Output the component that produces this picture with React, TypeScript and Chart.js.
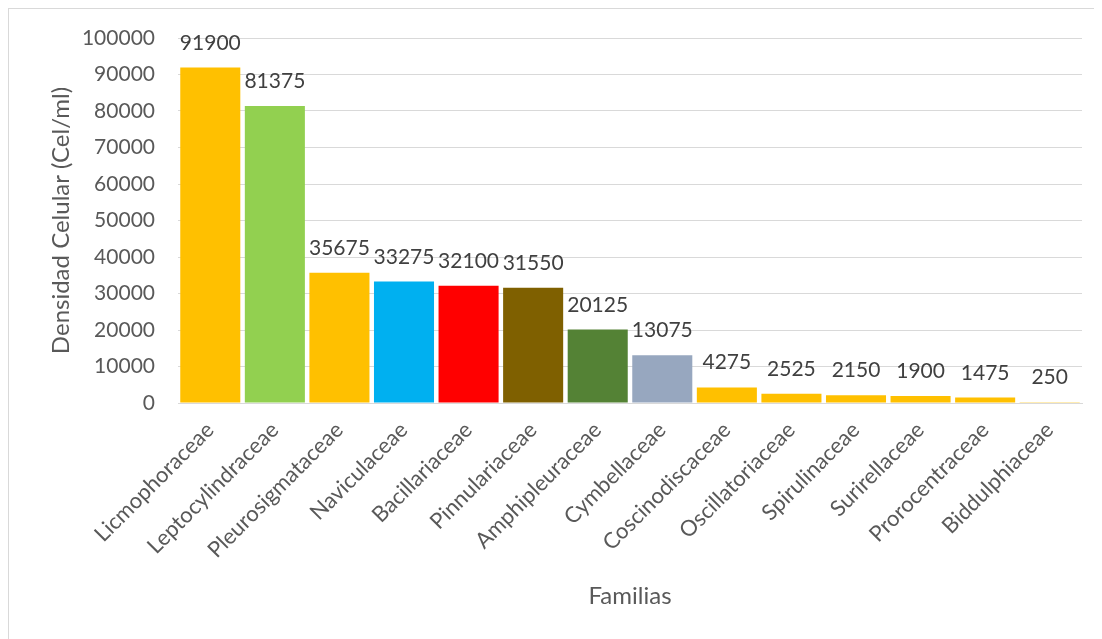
import React, { useEffect, useRef } from "react";
import { Chart, registerables } from "chart.js";

Chart.register(...registerables);

const categories: string[] = [
  "Licmophoraceae",
  "Leptocylindraceae",
  "Pleurosigmataceae",
  "Naviculaceae",
  "Bacillariaceae",
  "Pinnulariaceae",
  "Amphipleuraceae",
  "Cymbellaceae",
  "Coscinodiscaceae",
  "Oscillatoriaceae",
  "Spirulinaceae",
  "Surirellaceae",
  "Prorocentraceae",
  "Biddulphiaceae",
];

const densities: number[] = [91900, 81375, 35675, 33275, 32100, 31550, 20125, 13075, 4275, 2525, 2150, 1900, 1475, 250];

const barColors: string[] = [
  "#FFC000",
  "#92D050",
  "#FFC000",
  "#00B0F0",
  "#FF0000",
  "#7F6000",
  "#548235",
  "#97A7BF",
  "#FFC000",
  "#FFC000",
  "#FFC000",
  "#FFC000",
  "#FFC000",
  "#FFD966",
];

const yTitle = "Densidad Celular (Cel/ml)";
const xTitle = "Familias";
const FONT = "Lato, 'Open Sans', sans-serif";

const labelsPlugin = {
  id: "valueLabels",
  afterDatasetsDraw(chart: any) {
    const ctx = chart.ctx;
    const meta = chart.getDatasetMeta(0);
    ctx.save();
    ctx.font = `21px ${FONT}`;
    ctx.fillStyle = "#404040";
    ctx.textAlign = "center";
    ctx.textBaseline = "alphabetic";
    meta.data.forEach((bar: any, i: number) => {
      ctx.fillText(String(densities[i]), bar.x, bar.y - 18);
    });
    ctx.restore();
  },
};

const titlesPlugin = {
  id: "axisTitles",
  afterDraw(chart: any) {
    const ctx = chart.ctx;
    const area = chart.chartArea;
    ctx.save();
    ctx.fillStyle = "#595959";
    ctx.font = `24px ${FONT}`;
    ctx.textAlign = "center";
    ctx.textBaseline = "alphabetic";
    ctx.fillText(xTitle, (area.left + area.right) / 2, 595);
    ctx.textBaseline = "middle";
    ctx.translate(52, (area.top + area.bottom) / 2);
    ctx.rotate(-Math.PI / 2);
    ctx.fillText(yTitle, 0, 0);
    ctx.restore();
  },
};

export default function App() {
  const canvasRef = useRef<HTMLCanvasElement | null>(null);

  useEffect(() => {
    if (!canvasRef.current) return;
    const chart = new Chart(canvasRef.current, {
      type: "bar",
      data: {
        labels: categories,
        datasets: [
          {
            data: densities,
            backgroundColor: barColors,
            borderWidth: 0,
            barPercentage: 0.93,
            categoryPercentage: 1,
          },
        ],
      },
      options: {
        animation: false,
        responsive: true,
        maintainAspectRatio: false,
        layout: { padding: { top: 29, right: 19, left: 10, bottom: 0 } },
        plugins: {
          legend: { display: false },
          tooltip: { enabled: false },
        },
        scales: {
          x: {
            afterFit: (scale: any) => {
              scale.height = 235;
            },
            grid: { display: false },
            border: { display: true, color: "#D9D9D9", width: 1 },
            ticks: {
              autoSkip: false,
              maxRotation: 45,
              minRotation: 45,
              padding: 6,
              color: "#595959",
              font: { family: FONT, size: 22 },
            },
          },
          y: {
            min: 0,
            max: 100000,
            afterFit: (scale: any) => {
              scale.width = 159;
            },
            grid: {
              color: "#D9D9D9",
              lineWidth: 1,
              drawTicks: true,
              tickLength: 20,
              tickColor: "rgba(0,0,0,0)",
            },
            border: { display: false },
            ticks: {
              stepSize: 10000,
              padding: 3,
              color: "#595959",
              font: { family: FONT, size: 21 },
              callback: (v: any) => String(v),
            },
          },
        },
      },
      plugins: [labelsPlugin, titlesPlugin],
    });
    return () => chart.destroy();
  }, []);

  return (
    <div style={{ width: 1094, height: 631, overflow: "hidden" }}>
      <div
        style={{
          width: 1110,
          height: 650,
          border: "1px solid #D9D9D9",
          boxSizing: "border-box",
          background: "#fff",
        }}
      >
        <div style={{ position: "relative", width: 1092, height: 629 }}>
          <canvas ref={canvasRef} />
        </div>
      </div>
    </div>
  );
}
